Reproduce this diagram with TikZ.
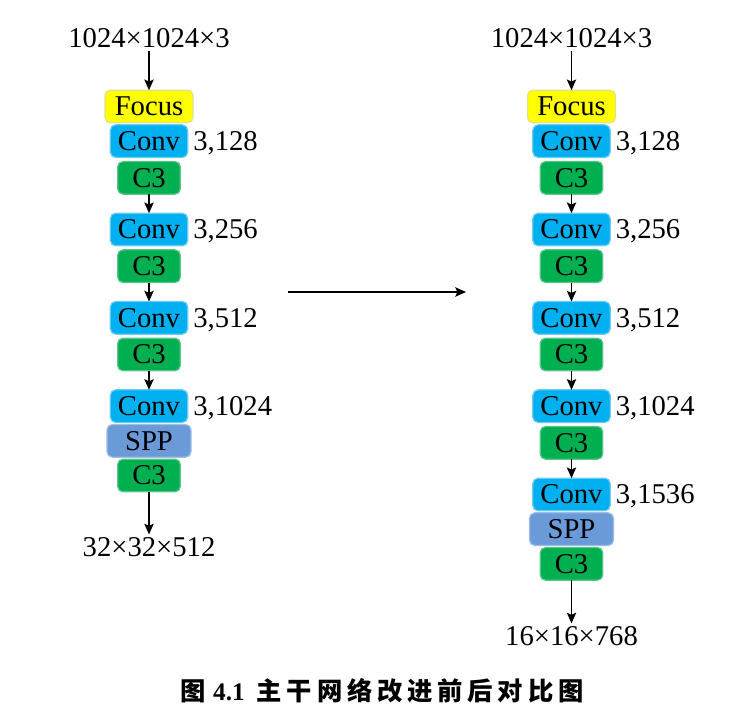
\documentclass[tikz,border=0pt]{standalone}
\usepackage{fontspec}
\setmainfont{Liberation Serif}
\newfontfamily\cjk{Noto Sans CJK SC}[LetterSpace=19]
\usetikzlibrary{positioning,arrows.meta}

\definecolor{focusfill}{HTML}{FFFF00}
\definecolor{focusline}{HTML}{E6DF8C}
\definecolor{convfill}{HTML}{00B0F0}
\definecolor{convline}{HTML}{6CCBF0}
\definecolor{cfill}{HTML}{00B050}
\definecolor{cline}{HTML}{5CC58A}
\definecolor{sppfill}{HTML}{6A9BD8}
\definecolor{sppline}{HTML}{9DBDE6}

\begin{document}
\begin{tikzpicture}[x=0.75pt, y=-0.75pt, >={Stealth[length=8pt,width=7pt,inset=1.5pt]},
    node distance=1.5pt, font=\fontsize{21.5}{24}\selectfont,
    blk/.style={rounded corners=4pt, minimum height=24.5pt, inner sep=0pt, outer sep=0pt, line width=0.9pt},
    focusbox/.style={blk, fill=focusfill, draw=focusline, minimum width=66pt},
    convbox/.style={blk, fill=convfill, draw=convline, minimum width=58pt},
    cbox/.style={blk, fill=cfill, draw=cline, minimum width=47pt},
    sppbox/.style={blk, fill=sppfill, draw=sppline, minimum width=63pt},
    lbl/.style={inner sep=2pt},
    side/.style={lbl, yshift=-1.5pt},
    flow/.style={->, line width=1pt}]
    \useasboundingbox (0,0) rectangle (740,726);

    % left column: original backbone
    \node[lbl] (inL) at (149,38) {1024×1024×3};
    \node[focusbox] (focusL) at (149,106.5) {Focus};
    \node[convbox, below=of focusL] (convL1) {Conv};
    \node[cbox, below=3pt of convL1] (cL1) {C3};
    \node[convbox, below=14.25pt of cL1] (convL2) {Conv};
    \node[cbox, below=3pt of convL2] (cL2) {C3};
    \node[convbox, below=14.25pt of cL2] (convL3) {Conv};
    \node[cbox, below=3pt of convL3] (cL3) {C3};
    \node[convbox, below=14.25pt of cL3] (convL4) {Conv};
    \node[sppbox, below=of convL4] (sppL) {SPP};
    \node[cbox, below=of sppL] (cL4) {C3};
    \node[lbl] (outL) at (149,547) {32×32×512};

    \node[side, right=2pt of convL1] {3,128};
    \node[side, right=2pt of convL2] {3,256};
    \node[side, right=2pt of convL3] {3,512};
    \node[side, right=2pt of convL4] {3,1024};

    \draw[flow] (inL) -- (focusL);
    \draw[flow] (cL1) -- (convL2);
    \draw[flow] (cL2) -- (convL3);
    \draw[flow] (cL3) -- (convL4);
    \draw[flow] (cL4) -- (outL);

    % right column: improved backbone
    \node[lbl] (inR) at (571.5,38) {1024×1024×3};
    \node[focusbox] (focusR) at (571.5,106.5) {Focus};
    \node[convbox, below=of focusR] (convR1) {Conv};
    \node[cbox, below=3pt of convR1] (cR1) {C3};
    \node[convbox, below=14.25pt of cR1] (convR2) {Conv};
    \node[cbox, below=3pt of convR2] (cR2) {C3};
    \node[convbox, below=14.25pt of cR2] (convR3) {Conv};
    \node[cbox, below=3pt of convR3] (cR3) {C3};
    \node[convbox, below=14.25pt of cR3] (convR4) {Conv};
    \node[cbox, below=3pt of convR4] (cR4) {C3};
    \node[convbox, below=14.25pt of cR4] (convR5) {Conv};
    \node[sppbox, below=of convR5] (sppR) {SPP};
    \node[cbox, below=of sppR] (cR5) {C3};
    \node[lbl] (outR) at (571.5,636) {16×16×768};

    \node[side, right=2pt of convR1] {3,128};
    \node[side, right=2pt of convR2] {3,256};
    \node[side, right=2pt of convR3] {3,512};
    \node[side, right=2pt of convR4] {3,1024};
    \node[side, right=2pt of convR5] {3,1536};

    \draw[flow] (inR) -- (focusR);
    \draw[flow] (cR1) -- (convR2);
    \draw[flow] (cR2) -- (convR3);
    \draw[flow] (cR3) -- (convR4);
    \draw[flow] (cR4) -- (convR5);
    \draw[flow] (cR5) -- (outR);

    % before -> after
    \coordinate (fromL) at (288,292);
    \coordinate (toR) at (466,292);
    \draw[flow] (fromL) -- (toR);

    % caption
    \node[inner sep=0pt, font=\fontsize{19}{21}\selectfont] (cap) at (382,691)
      {{\cjk\bfseries 图}\hspace{2pt}\textbf{4.1}\hspace{9pt}{\cjk\bfseries 主干网络改进前后对比图}};
\end{tikzpicture}
\end{document}
